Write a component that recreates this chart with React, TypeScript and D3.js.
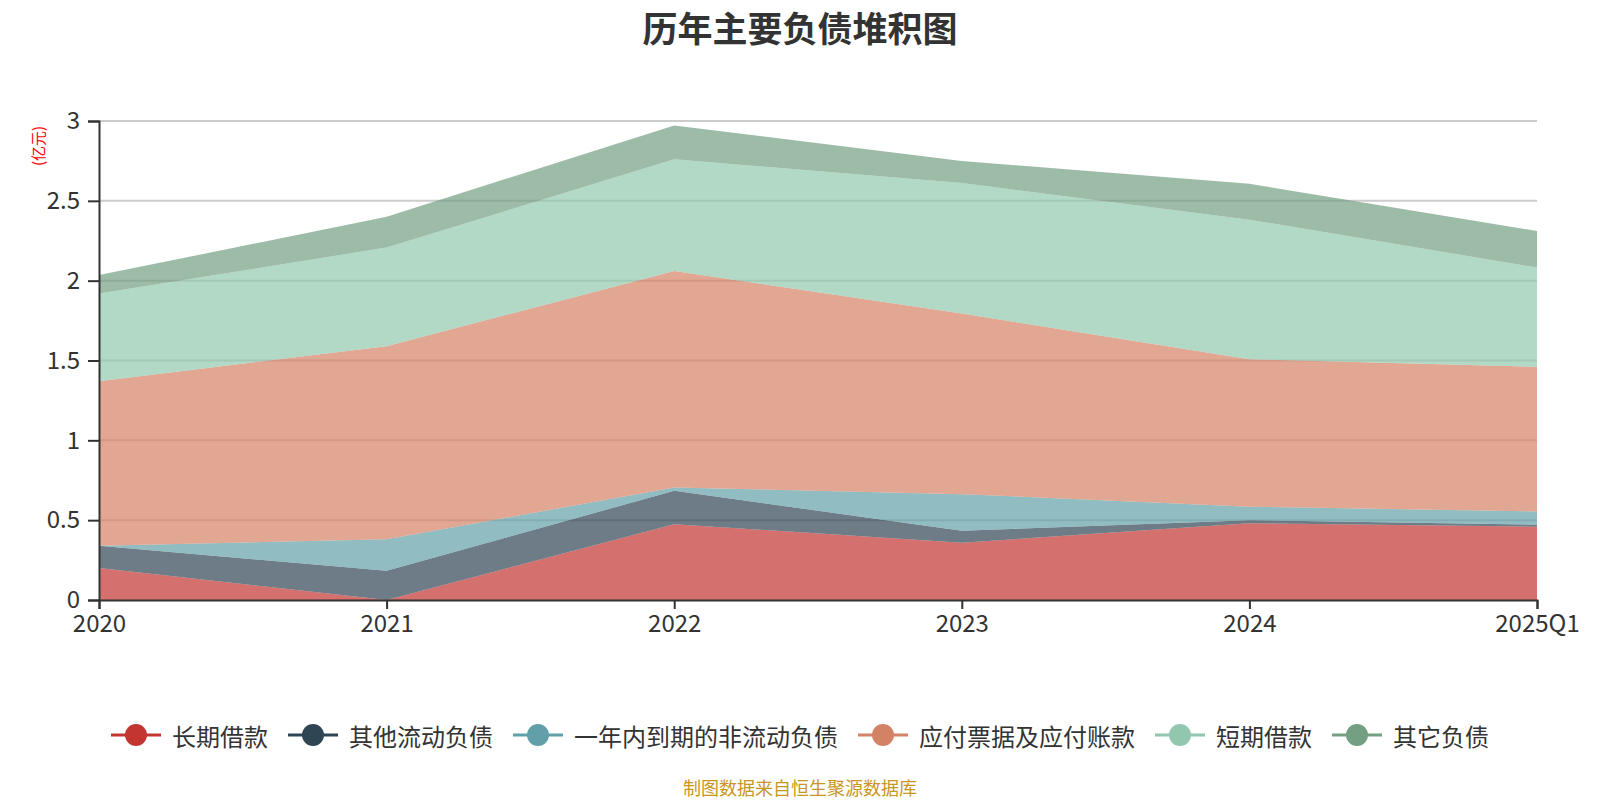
import React, { useRef, useEffect } from 'react';
import * as d3 from 'd3';

const periods = ['2020', '2021', '2022', '2023', '2024', '2025Q1'];
const seriesNames = ['长期借款', '其他流动负债', '一年内到期的非流动负债', '应付票据及应付账款', '短期借款', '其它负债'];
const seriesColors = ['#c23531', '#2f4554', '#61a0a8', '#d48265', '#91c7ae', '#749f83'];

// 亿元
const longLoans = [0.2, 0.0, 0.475, 0.359, 0.48, 0.459];
const otherCurrent = [0.14, 0.183, 0.209, 0.075, 0.02, 0.012];
const dueWithinYear = [0.0, 0.197, 0.021, 0.229, 0.084, 0.084];
const payables = [1.03, 1.21, 1.356, 1.131, 0.924, 0.905];
const shortLoans = [0.55, 0.617, 0.699, 0.817, 0.874, 0.622];
const otherLiab = [0.115, 0.193, 0.212, 0.138, 0.225, 0.229];

const yTicks = [0, 0.5, 1, 1.5, 2, 2.5, 3];

const FONT = '"Noto Sans CJK SC", "Noto Sans", sans-serif';

const App = () => {
  const svgRef = useRef<SVGSVGElement | null>(null);

  useEffect(() => {
    const width = 1600;
    const height = 800;
    const margin = { top: 121, right: 63, bottom: 200, left: 99 };
    const innerW = width - margin.left - margin.right;
    const innerH = height - margin.top - margin.bottom;

    const svg = d3.select(svgRef.current);
    svg.selectAll('*').remove();

    const allSeries = [longLoans, otherCurrent, dueWithinYear, payables, shortLoans, otherLiab];
    const table = periods.map((p, i) => {
      const row: Record<string, number | string> = { period: p };
      seriesNames.forEach((n, k) => { row[n] = allSeries[k][i]; });
      return row;
    });

    const stack = d3.stack<Record<string, number | string>>()
      .keys(seriesNames)
      .value((d, key) => d[key] as number);
    const stacked = stack(table);

    const x = d3.scalePoint().domain(periods).range([0, innerW]);
    const y = d3.scaleLinear().domain([0, 3]).range([innerH, 0]);

    // 标题
    svg.append('text')
      .attr('x', width / 2)
      .attr('y', 26)
      .attr('text-anchor', 'middle')
      .attr('dominant-baseline', 'central')
      .attr('font-family', FONT)
      .attr('font-size', 35)
      .attr('font-weight', 'bold')
      .attr('fill', '#333')
      .text('历年主要负债堆积图');

    // 单位
    svg.append('text')
      .attr('transform', `translate(37,146) rotate(-90)`)
      .attr('text-anchor', 'middle')
      .attr('dominant-baseline', 'central')
      .attr('font-family', FONT)
      .attr('font-size', 15)
      .attr('fill', 'red')
      .text('(亿元)');

    const g = svg.append('g').attr('transform', `translate(${margin.left},${margin.top})`);

    // 网格线
    g.append('g')
      .selectAll('line')
      .data(yTicks.filter(t => t > 0))
      .join('line')
      .attr('x1', 0)
      .attr('x2', innerW)
      .attr('y1', d => y(d))
      .attr('y2', d => y(d))
      .attr('stroke', '#ccc')
      .attr('stroke-width', 2);

    // 面积
    const area = d3.area<d3.SeriesPoint<Record<string, number | string>>>()
      .x(d => x(d.data.period as string)!)
      .y0(d => y(d[0]))
      .y1(d => y(d[1]));

    g.append('g')
      .selectAll('path')
      .data(stacked)
      .join('path')
      .attr('fill', (_, i) => seriesColors[i])
      .attr('fill-opacity', 0.7)
      .attr('d', area);

    // Y 轴
    const yAxis = d3.axisLeft(y).tickValues(yTicks).tickSize(11).tickPadding(8).tickFormat(d => String(d));
    const yg = g.append('g').call(yAxis);
    yg.select('.domain').attr('stroke', '#333').attr('stroke-width', 2);
    yg.selectAll('.tick line').attr('stroke', '#333').attr('stroke-width', 2);
    yg.selectAll('.tick text')
      .attr('font-family', FONT)
      .attr('font-size', 24)
      .attr('fill', '#333');

    // X 轴
    const xAxis = d3.axisBottom(x).tickSize(9).tickPadding(6);
    const xg = g.append('g').attr('transform', `translate(0,${innerH})`).call(xAxis);
    xg.select('.domain').attr('stroke', '#333').attr('stroke-width', 2);
    xg.selectAll('.tick line').attr('stroke', '#333').attr('stroke-width', 2);
    xg.selectAll('.tick text')
      .attr('font-family', FONT)
      .attr('font-size', 24)
      .attr('fill', '#333');

    // 图例
    const legendY = 735;
    const fontSize = 24;
    const iconW = 50;
    const widths = seriesNames.map(n => iconW + 11 + n.length * fontSize);
    const gap = 20;
    const total = d3.sum(widths) + gap * (widths.length - 1);
    let cx = width / 2 - total / 2;
    const legend = svg.append('g');
    seriesNames.forEach((n, i) => {
      const item = legend.append('g').attr('transform', `translate(${cx},${legendY})`);
      item.append('line')
        .attr('x1', 0).attr('x2', iconW)
        .attr('y1', 0).attr('y2', 0)
        .attr('stroke', seriesColors[i])
        .attr('stroke-width', 3);
      item.append('circle')
        .attr('cx', iconW / 2).attr('cy', 0).attr('r', 11)
        .attr('fill', seriesColors[i]);
      item.append('text')
        .attr('x', iconW + 11)
        .attr('y', 0)
        .attr('dominant-baseline', 'central')
        .attr('font-family', FONT)
        .attr('font-size', fontSize)
        .attr('fill', '#333')
        .text(n);
      cx += widths[i] + gap;
    });

    // 数据来源
    svg.append('text')
      .attr('x', width / 2)
      .attr('y', 787)
      .attr('text-anchor', 'middle')
      .attr('dominant-baseline', 'central')
      .attr('font-family', FONT)
      .attr('font-size', 18)
      .attr('fill', '#c8961e')
      .text('制图数据来自恒生聚源数据库');
  }, []);

  return (
    <svg
      ref={svgRef}
      width={1600}
      height={800}
      style={{ position: 'absolute', left: 0, top: 0, background: '#fff' }}
    />
  );
};

export default App;
